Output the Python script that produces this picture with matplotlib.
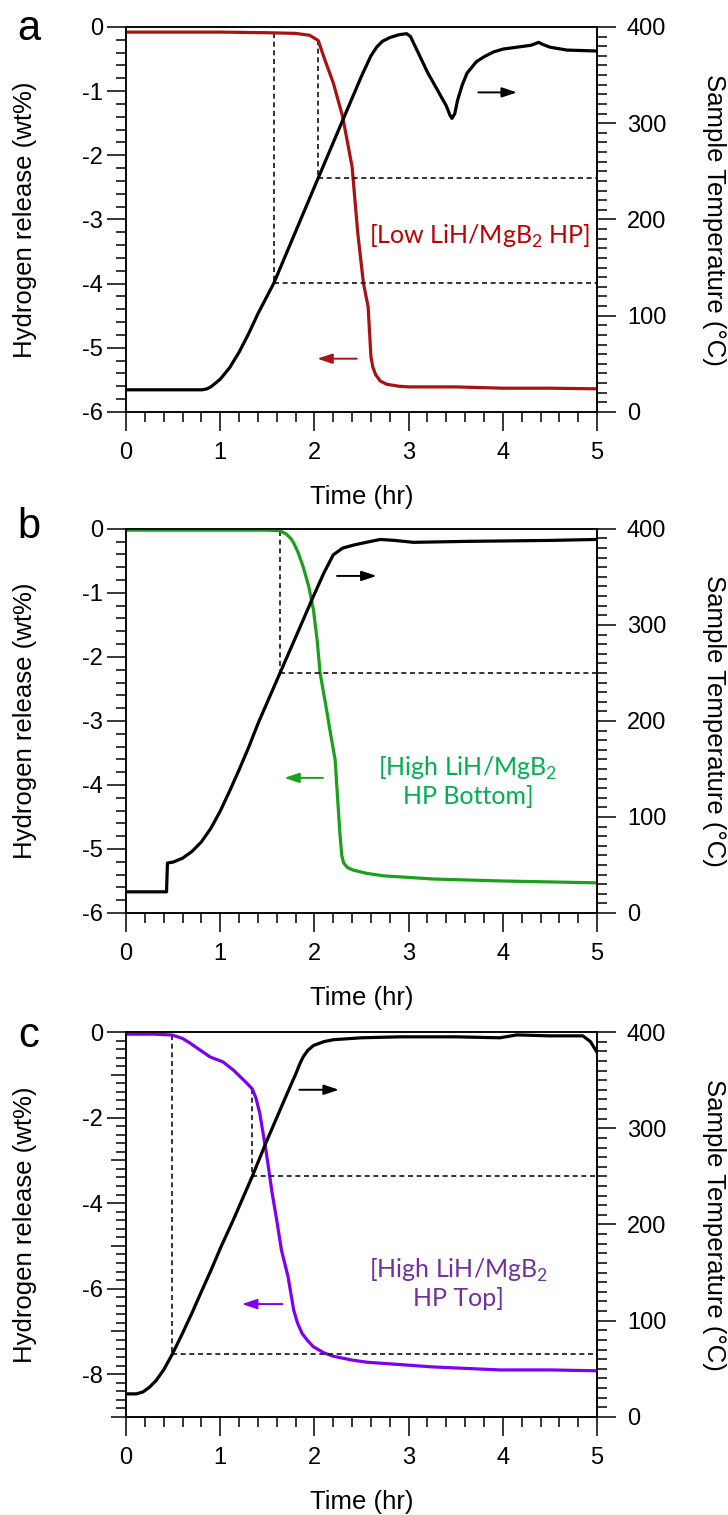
import matplotlib
matplotlib.use('Agg')
import matplotlib.pyplot as plt
from matplotlib.ticker import MultipleLocator

plt.rcParams['font.family'] = ['Liberation Sans', 'DejaVu Sans']
plt.rcParams['mathtext.fontset'] = 'custom'
plt.rcParams['axes.unicode_minus'] = False

# ---- panel a : Low LiH/MgB2 HP ----
ta_h = [0, 0.5, 1.0, 1.5, 1.8, 1.95, 2.04, 2.11, 2.2, 2.3, 2.4, 2.46, 2.52, 2.57,
        2.60, 2.62, 2.65, 2.70, 2.77, 2.9, 3.0, 3.5, 4.0, 4.5, 5.0]
ha = [-0.08, -0.08, -0.08, -0.09, -0.1, -0.13, -0.21, -0.51, -0.87, -1.40, -2.18, -3.21,
      -3.99, -4.36, -5.14, -5.30, -5.42, -5.52, -5.57, -5.60, -5.61, -5.61, -5.63,
      -5.63, -5.64]
ta_T = [0, 0.5, 0.81, 0.86, 0.9, 1.0, 1.1, 1.2, 1.3, 1.4, 1.57, 1.85, 2.04, 2.30, 2.5,
        2.6, 2.66, 2.72, 2.8, 2.9, 2.98, 3.02, 3.2, 3.40, 3.44, 3.46, 3.49, 3.52, 3.57,
        3.62, 3.72, 3.8, 3.9, 4.0, 4.15, 4.3, 4.38, 4.42, 4.5, 4.68, 5.0]
Ta = [23, 23, 23, 24, 26, 34, 46, 62, 81, 102, 134, 199, 243, 303, 349,
      370, 379, 385, 389, 392, 393, 390, 353, 318, 308, 305, 310, 324, 340,
      352, 364, 369, 374, 377, 379, 381, 384, 382, 379, 376, 375]

# ---- panel b : High LiH/MgB2 HP Bottom ----
tb_h = [0, 1.0, 1.5, 1.635, 1.7, 1.75, 1.78, 1.83, 1.88, 1.94, 1.99, 2.03, 2.06, 2.12,
        2.17, 2.22, 2.27, 2.29, 2.31, 2.35, 2.41, 2.55, 2.73, 3.26, 3.97, 5.0]
hb = [-0.02, -0.02, -0.02, -0.03, -0.08, -0.15, -0.22, -0.38, -0.59, -0.9, -1.27, -1.75,
      -2.25, -2.75, -3.19, -3.61, -4.75, -5.10, -5.22, -5.29, -5.33, -5.38, -5.42,
      -5.47, -5.50, -5.53]
tb_T = [0, 0.43, 0.44, 0.5, 0.6, 0.7, 0.8, 0.9, 1.0, 1.1, 1.2, 1.3, 1.4, 1.635, 1.8,
        1.99, 2.1, 2.2, 2.3, 2.41, 2.55, 2.70, 2.85, 3.05, 3.62, 4.5, 5.0]
Tb = [22, 22, 52, 53, 57, 64, 74, 88, 106, 127, 149, 172, 197, 250, 287,
      330, 354, 373, 380, 383, 386, 389, 388, 386, 387, 388, 389]

# ---- panel c : High LiH/MgB2 HP Top ----
tc_h = [0, 0.3, 0.49, 0.6, 0.68, 0.89, 1.03, 1.14, 1.28, 1.34, 1.38, 1.42, 1.49, 1.55,
        1.60, 1.65, 1.72, 1.78, 1.82, 1.87, 1.93, 1.99, 2.1, 2.2, 2.4, 2.56, 3.26,
        3.97, 4.5, 5.0]
hc = [-0.05, -0.05, -0.07, -0.15, -0.26, -0.58, -0.70, -0.89, -1.19, -1.33, -1.55, -1.9,
      -2.83, -3.75, -4.4, -5.1, -5.72, -6.5, -6.8, -7.05, -7.22, -7.36, -7.5, -7.58,
      -7.67, -7.72, -7.83, -7.9, -7.9, -7.92]
tc_T = [0, 0.11, 0.18, 0.25, 0.32, 0.4, 0.49, 0.6, 0.7, 0.79, 0.9, 1.0, 1.14, 1.34,
        1.49, 1.71, 1.80, 1.85, 1.88, 1.93, 1.99, 2.1, 2.2, 2.5, 2.91, 3.5, 3.97, 4.15,
        4.5, 4.85, 4.93, 5.0]
Tc = [24, 24, 26, 31, 38, 49, 65, 87, 108, 128, 152, 175, 205, 250,
      286, 336, 356, 368, 374, 381, 386, 390, 392, 394, 395, 395, 394, 397,
      396, 396, 390, 379]

# dashed guides: time, wt% where it starts, temperature where it ends
guides_a = [(1.57, -0.09, 134), (2.04, -0.21, 243)]
guides_b = [(1.635, -0.03, 250)]
guides_c = [(0.49, -0.07, 65), (1.34, -1.33, 250)]

# arrows: (t_tail, t_head, level)
arrow_T = {'a': (3.74, 4.15, 332), 'b': (2.24, 2.66, 351), 'c': (1.84, 2.26, 340)}
arrow_h = {'a': (2.45, 2.03, -5.17), 'b': (2.09, 1.68, -3.89), 'c': (1.66, 1.23, -6.36)}

labels = {'a': '[Low LiH/MgB$_\\mathregular{2}$ HP]',
          'b': '[High LiH/MgB$_\\mathregular{2}$\nHP Bottom]',
          'c': '[High LiH/MgB$_\\mathregular{2}$\nHP Top]'}

panels = [
    dict(key='a', th=ta_h, h=ha, tT=ta_T, T=Ta, guides=guides_a, line='#A81212', text='#C00000',
         ylim=(-6, 0), major=1, pos=(0.7281, 0.2541), lab=(3.75, -3.27), letter_y=0.966),
    dict(key='b', th=tb_h, h=hb, tT=tb_T, T=Tb, guides=guides_b, line='#1CA01C', text='#00B050',
         ylim=(-6, 0), major=1, pos=(0.3974, 0.2535), lab=(3.63, -3.94), letter_y=0.975),
    dict(key='c', th=tc_h, h=hc, tT=tc_T, T=Tc, guides=guides_c, line='#7F00F0', text='#7030A0',
         ylim=(-9, 0), major=2, pos=(0.0647, 0.2541), lab=(3.53, -5.87), letter_y=0.961),
]

fig = plt.figure(figsize=(7.28, 15.15), dpi=100)

tick_kw = dict(direction='out', width=1.1, labelsize=17)

for p in panels:
    ax = fig.add_axes([0.1731, p['pos'][0], 0.647, p['pos'][1]])
    ax2 = ax.twinx()
    ax.set_xlim(0, 5)
    ax.set_ylim(*p['ylim'])
    ax2.set_ylim(0, 400)

    ax.plot(p['th'], p['h'], color=p['line'], lw=2.3, zorder=3)
    ax2.plot(p['tT'], p['T'], color='black', lw=2.3, zorder=3)

    # guides
    for t, h0, temp in p['guides']:
        ax2.plot([t, 5], [temp, temp], color='#111111', lw=1.2, dashes=(3, 2.2))
        disp = ax2.transData.transform((t, temp))
        h1 = ax.transData.inverted().transform(disp)[1]
        ax.plot([t, t], [h0, h1], color='#111111', lw=1.2, dashes=(3, 2.2))

    # arrows
    t0, t1, lv = arrow_T[p['key']]
    ax2.annotate('', xy=(t1, lv), xytext=(t0, lv),
                 arrowprops=dict(arrowstyle='-|>,head_length=0.9,head_width=0.3',
                                 color='black', lw=1.4, shrinkA=0, shrinkB=0))
    t0, t1, lv = arrow_h[p['key']]
    ax.annotate('', xy=(t1, lv), xytext=(t0, lv),
                arrowprops=dict(arrowstyle='-|>,head_length=0.9,head_width=0.3',
                                color=p['line'], lw=1.4, shrinkA=0, shrinkB=0))

    ax.text(p['lab'][0], p['lab'][1], labels[p['key']], color=p['text'], fontsize=18,
            family=['Lato', 'DejaVu Sans'], ha='center', va='center', linespacing=1.15)

    # ticks
    ax.xaxis.set_major_locator(MultipleLocator(1))
    ax.xaxis.set_minor_locator(MultipleLocator(0.2))
    ax.yaxis.set_major_locator(MultipleLocator(p['major']))
    ax.yaxis.set_minor_locator(MultipleLocator(0.2))
    ax2.yaxis.set_major_locator(MultipleLocator(100))
    ax2.yaxis.set_minor_locator(MultipleLocator(10))
    ax.tick_params(axis='both', which='major', length=13.5, **tick_kw)
    ax.tick_params(axis='both', which='minor', length=7, width=1.1, direction='out')
    ax.tick_params(axis='y', which='major', pad=3)
    ax.tick_params(axis='x', which='major', pad=8)
    ax2.tick_params(axis='y', which='major', length=13.5, pad=8, **tick_kw)
    ax2.tick_params(axis='y', which='minor', length=7, width=1.1, direction='out')
    for a in (ax, ax2):
        for s in a.spines.values():
            s.set_linewidth(1.1)

    ax.set_xlabel('Time (hr)', fontsize=18.5)
    ax.xaxis.set_label_coords(0.5, -0.19)
    ax.set_ylabel('Hydrogen release (wt%)', fontsize=18.5)
    ax.yaxis.set_label_coords(-0.19, 0.5)
    ax2.set_ylabel('Sample Temperature (°C)', fontsize=18.5, rotation=270, va='center')
    ax2.yaxis.set_label_coords(1.248, 0.5)

    ax.text(-0.206, p['letter_y'], p['key'], transform=ax.transAxes, fontsize=30,
            ha='center', va='baseline')

    # medium ticks at the odd integers on the wide wt% axis
    if p['major'] == 2:
        fig.canvas.draw()
        locs = ax.yaxis.get_minorticklocs()
        ticks = ax.yaxis.get_minor_ticks(len(locs))
        for loc, tk in zip(locs, ticks):
            if abs(abs(loc) % 2 - 1) < 1e-6:
                tk.tick1line.set_markersize(10.5)

fig.savefig('out.png', dpi=100)
